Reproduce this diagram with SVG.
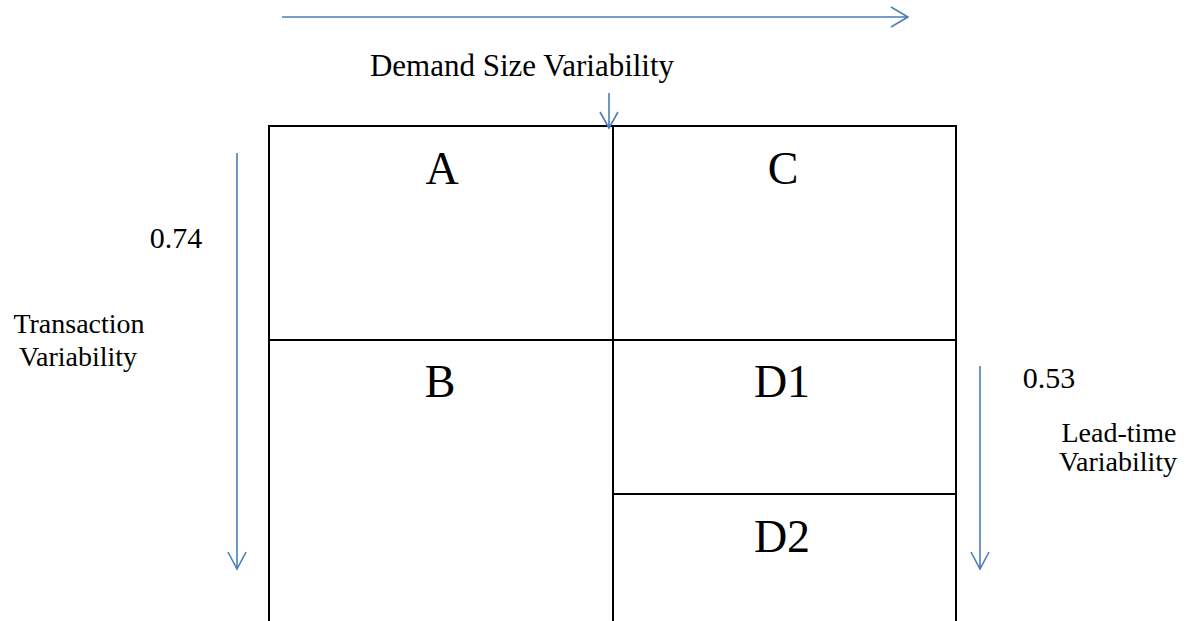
<svg xmlns="http://www.w3.org/2000/svg" width="1192" height="621" viewBox="0 0 1192 621">
<style>
.cell{fill:#fff;stroke:#000;stroke-width:2}
.lbl{font-family:"Liberation Serif","Times New Roman",serif;font-size:46px;fill:#000;text-anchor:middle}
.txt{font-family:"Liberation Serif","Times New Roman",serif;font-size:28px;fill:#000;text-anchor:middle}
.arr{stroke:#4a7ebb;stroke-width:1.6;fill:none}
</style>
<rect width="1192" height="621" fill="#fff"/>
<g id="cellA"><rect class="cell" x="269" y="126" width="344" height="214"/><text class="lbl" x="442" y="184">A</text></g>
<g id="cellC"><rect class="cell" x="613" y="126" width="343" height="214"/><text class="lbl" x="783" y="184">C</text></g>
<g id="cellB"><rect class="cell" x="269" y="340" width="344" height="290"/><text class="lbl" x="440" y="397">B</text></g>
<g id="cellD1"><rect class="cell" x="613" y="340" width="343" height="154"/><text class="lbl" x="782" y="397">D1</text></g>
<g id="cellD2"><rect class="cell" x="613" y="494" width="343" height="136"/><text class="lbl" x="782" y="552">D2</text></g>
<g id="connectors">
<path class="arr" d="M282 17H908M891 7L908 17L891 27"/>
<path class="arr" d="M609 93V128M600 112L609 128L618 112"/>
<path class="arr" d="M237 153V569M228 552L237 569L246 552"/>
<path class="arr" d="M980 366V569M971 552L980 569L989 552"/>
</g>
<g id="labels">
<text class="txt" x="522" y="76" style="font-size:31px">Demand Size Variability</text>
<text class="txt" x="176" y="248" style="font-size:30px">0.74</text>
<text class="txt" x="79" y="333">Transaction</text>
<text class="txt" x="78" y="366">Variability</text>
<text class="txt" x="1049" y="388" style="font-size:30px">0.53</text>
<text class="txt" x="1119" y="442">Lead-time</text>
<text class="txt" x="1118" y="471">Variability</text>
</g>
</svg>
